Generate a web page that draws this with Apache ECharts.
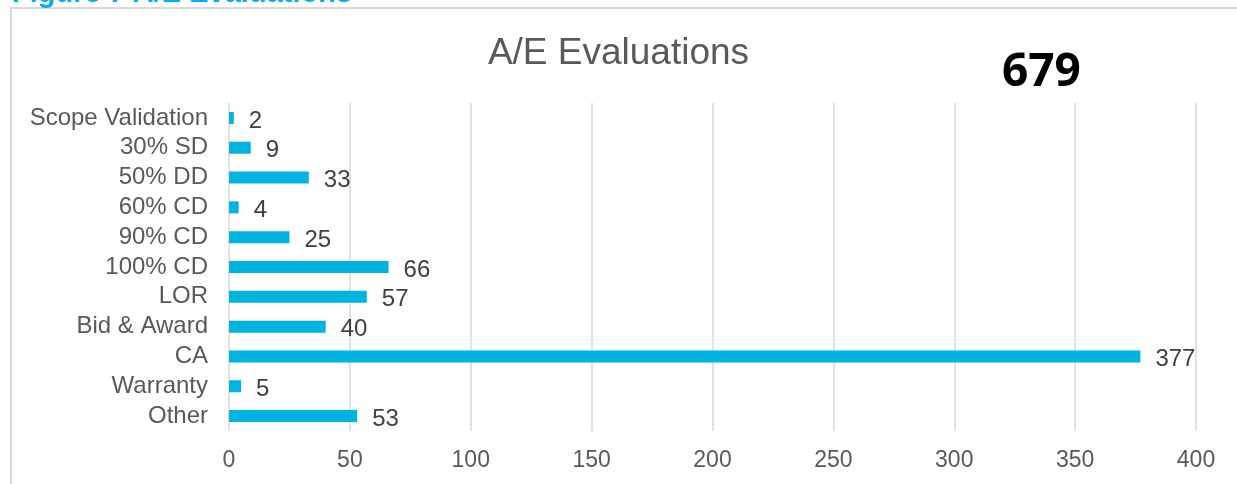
<!DOCTYPE html>
<html>
<head>
<meta charset="utf-8">
<script src="https://cdn.jsdelivr.net/npm/echarts@6/dist/echarts.min.js"></script>
<style>
  html, body { margin: 0; padding: 0; background: #fff; }
  #main { width: 1237px; height: 484px; }
</style>
</head>
<body>
<div id="main"></div>
<script>
// values
var categories = ['Scope Validation', '30% SD', '50% DD', '60% CD', '90% CD', '100% CD', 'LOR', 'Bid & Award', 'CA', 'Warranty', 'Other']
var evaluations = [2, 9, 33, 4, 25, 66, 57, 40, 377, 5, 53]
var totalLabel = '679'

var chart = echarts.init(document.getElementById('main'))
chart.setOption({
  animation: false,
  backgroundColor: '#fff',
  title: {
    text: 'A/E Evaluations',
    left: 'center',
    top: 30,
    textStyle: { fontFamily: 'Liberation Sans', fontSize: 37, fontWeight: 'normal', color: '#595959' }
  },
  graphic: [
    {
      type: 'rect',
      shape: { x: 11, y: 8, width: 1400, height: 600 },
      style: { fill: 'none', stroke: '#d9d9d9', lineWidth: 2 },
      silent: true
    },
    {
      type: 'text',
      left: 12,
      top: -21,
      style: { text: 'Figure 7 A/E Evaluations', fill: '#00b0f0', fontFamily: 'Liberation Sans', fontSize: 29, fontWeight: 'bold' }
    },
    {
      type: 'text',
      left: 1002,
      top: 50,
      style: { text: totalLabel, fill: '#000', fontFamily: 'Noto Sans', fontSize: 46, fontWeight: 'bold' }
    }
  ],
  grid: { left: 229, right: 41, top: 103, bottom: 53, containLabel: false },
  xAxis: {
    type: 'value',
    min: 0,
    max: 400,
    interval: 50,
    axisLine: { show: false },
    axisTick: { show: false },
    splitLine: { show: true, lineStyle: { color: '#d9d9d9', width: 1.5 } },
    axisLabel: { margin: 18, fontFamily: 'Liberation Sans', fontSize: 23, color: '#595959' }
  },
  yAxis: {
    type: 'category',
    inverse: true,
    data: categories,
    axisLine: { show: false },
    axisTick: { show: false },
    axisLabel: { interval: 0, margin: 21, fontFamily: 'Liberation Sans', fontSize: 24, color: '#595959', padding: [3, 0, 0, 0] }
  },
  series: [{
    type: 'bar',
    data: evaluations,
    barWidth: 12,
    itemStyle: { color: '#00b4e0' },
    label: {
      show: true,
      position: 'right',
      distance: 15,
      offset: [0, 3],
      fontFamily: 'Liberation Sans',
      fontSize: 24,
      color: '#404040'
    }
  }]
})
</script>
</body>
</html>
